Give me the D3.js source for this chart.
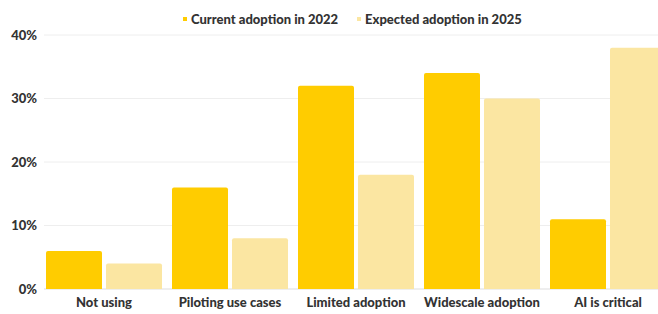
<!DOCTYPE html>
<html>
<head>
<meta charset="utf-8">
<script src="https://cdn.jsdelivr.net/npm/d3@7"></script>
<style>
  body { margin: 0; background: #fff; }
  svg text { font-family: Lato, "Open Sans", sans-serif; font-weight: 900; fill: #333; }
</style>
</head>
<body>
<div id="chart"></div>
<script>
// Data
const categories = ["Not using", "Piloting use cases", "Limited adoption", "Widescale adoption", "AI is critical"];
const seriesNames = ["Current adoption in 2022", "Expected adoption in 2025"];
const current2022 = [6, 16, 32, 34, 11];
const expected2025 = [4, 8, 18, 30, 38];
const yTicks = [0, 10, 20, 30, 40];

const W = 658, H = 314;
const colors = ["#FFCC00", "#FBE6A2"];

const svg = d3.select("#chart").append("svg")
  .attr("width", W)
  .attr("height", H);

// Scales
const x = d3.scaleBand()
  .domain(categories)
  .range([41, 671])
  .paddingInner(10 / 126)
  .paddingOuter(5 / 126);

const xSub = d3.scaleBand()
  .domain(seriesNames)
  .range([0, x.bandwidth()])
  .paddingInner(4 / 60);

const y = d3.scaleLinear()
  .domain([0, 40])
  .range([289, 35]);

// Gridlines
svg.append("g")
  .selectAll("line")
  .data(yTicks)
  .enter()
  .append("line")
  .attr("x1", 44)
  .attr("x2", W)
  .attr("y1", d => y(d))
  .attr("y2", d => y(d))
  .attr("stroke", d => d === 0 ? "#ddd" : "#eee")
  .attr("stroke-width", 1);

// Y labels
svg.append("g")
  .selectAll("text")
  .data(yTicks)
  .enter()
  .append("text")
  .attr("x", 37)
  .attr("y", d => y(d))
  .attr("dy", "0.35em")
  .attr("text-anchor", "end")
  .style("font-size", "13px")
  .text(d => d + "%");

// Bars
const rows = categories.map((c, i) => ({ cat: c, vals: [current2022[i], expected2025[i]] }));

const groups = svg.append("g")
  .selectAll("g")
  .data(rows)
  .enter()
  .append("g")
  .attr("transform", d => `translate(${x(d.cat)},0)`);

groups.selectAll("path")
  .data(d => d.vals.map((v, j) => ({ s: seriesNames[j], v, j })))
  .enter()
  .append("path")
  .attr("fill", d => colors[d.j])
  .attr("d", d => {
    const x0 = xSub(d.s), w = xSub.bandwidth();
    const y0 = y(d.v), y1 = y(0), r = 2;
    return `M${x0},${y1}V${y0 + r}Q${x0},${y0} ${x0 + r},${y0}H${x0 + w - r}Q${x0 + w},${y0} ${x0 + w},${y0 + r}V${y1}Z`;
  });

// X labels
svg.append("g")
  .selectAll("text")
  .data(categories)
  .enter()
  .append("text")
  .attr("x", d => x(d) + x.bandwidth() / 2)
  .attr("y", 302)
  .attr("dy", "0.35em")
  .attr("text-anchor", "middle")
  .style("font-size", "13px")
  .text(d => d);

// Legend
const legendX = [183, 357];
const legend = svg.append("g")
  .selectAll("g")
  .data(seriesNames)
  .enter()
  .append("g")
  .attr("transform", (d, i) => `translate(${legendX[i]},19)`);

legend.append("rect")
  .attr("x", 0)
  .attr("y", -2)
  .attr("width", 4)
  .attr("height", 4)
  .attr("fill", (d, i) => colors[i]);

legend.append("text")
  .attr("x", 8)
  .attr("y", 0)
  .attr("dy", "0.35em")
  .style("font-size", "13px")
  .text(d => d);
</script>
</body>
</html>
